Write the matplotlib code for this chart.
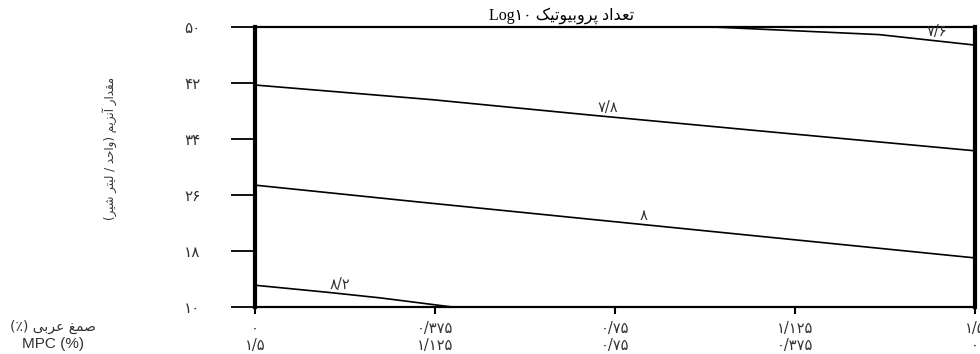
import matplotlib
matplotlib.use('Agg')
from matplotlib import pyplot

# contour lines of the fitted response (x = gum arabic %, y = enzyme units / L milk)
c76_x = [0.95, 1.30, 1.50]
c76_y = [50.0, 48.9, 47.4]
c78_x = [0.0, 0.37, 0.70, 1.09, 1.50]
c78_y = [41.7, 39.6, 37.4, 34.9, 32.3]
c80_x = [0.0, 0.34, 0.76, 1.50]
c80_y = [27.4, 25.0, 22.1, 17.0]
c82_x = [0.0, 0.15, 0.26, 0.41]
c82_y = [13.1, 12.1, 11.3, 10.0]

contour_labels = ['۷/۶', '۷/۸', '۸', '۸/۲']
label_x = [1.42, 0.735, 0.81, 0.177]
label_y = [49.3, 38.5, 23.1, 13.2]

xticks = [0, 0.375, 0.75, 1.125, 1.5]
gum_labels = ['۰', '۰/۳۷۵', '۰/۷۵', '۱/۱۲۵', '۱/۵']
mpc_labels = ['۱/۵', '۱/۱۲۵', '۰/۷۵', '۰/۳۷۵', '۰']
yticks = [10, 18, 26, 34, 42, 50]
ylabels = ['۱۰', '۱۸', '۲۶', '۳۴', '۴۲', '۵۰']

# matplotlib has no arabic shaping, so pick the presentation forms by hand
# (isolated, final, initial, medial)
forms = {
    'ا': (0xFE8D, 0xFE8E), 'آ': (0xFE81, 0xFE82),
    'ب': (0xFE8F, 0xFE90, 0xFE91, 0xFE92), 'پ': (0xFB56, 0xFB57, 0xFB58, 0xFB59),
    'ت': (0xFE95, 0xFE96, 0xFE97, 0xFE98), 'ح': (0xFEA1, 0xFEA2, 0xFEA3, 0xFEA4),
    'د': (0xFEA9, 0xFEAA), 'ر': (0xFEAD, 0xFEAE), 'ز': (0xFEAF, 0xFEB0),
    'ش': (0xFEB5, 0xFEB6, 0xFEB7, 0xFEB8), 'ص': (0xFEB9, 0xFEBA, 0xFEBB, 0xFEBC),
    'ع': (0xFEC9, 0xFECA, 0xFECB, 0xFECC), 'غ': (0xFECD, 0xFECE, 0xFECF, 0xFED0),
    'ق': (0xFED5, 0xFED6, 0xFED7, 0xFED8), 'ک': (0xFB8E, 0xFB8F, 0xFB90, 0xFB91),
    'ل': (0xFEDD, 0xFEDE, 0xFEDF, 0xFEE0), 'م': (0xFEE1, 0xFEE2, 0xFEE3, 0xFEE4),
    'ن': (0xFEE5, 0xFEE6, 0xFEE7, 0xFEE8), 'و': (0xFEED, 0xFEEE),
    'ی': (0xFBFC, 0xFBFD, 0xFBFE, 0xFBFF),
}

def rtl(s):
    out = []
    for i, ch in enumerate(s):
        if ch not in forms:
            out.append(ch)
            continue
        prev = s[i-1] if i > 0 else ''
        nxt = s[i+1] if i < len(s)-1 else ''
        jp = prev in forms and len(forms[prev]) == 4
        jn = len(forms[ch]) == 4 and nxt in forms
        f = forms[ch]
        if jp and jn:
            out.append(chr(f[3]))
        elif jp:
            out.append(chr(f[1]))
        elif jn:
            out.append(chr(f[2]))
        else:
            out.append(chr(f[0]))
    vis = ''.join(reversed(out))
    return vis.translate(str.maketrans('()', ')('))

fa = ['DejaVu Sans']
grey = '#333333'

pyplot.close('all')
fig = pyplot.figure(figsize=(9.8, 3.54), dpi=100, facecolor='white')
ax = fig.add_axes([0.260, 0.133, 0.735, 0.791])

for xs, ys in [(c76_x, c76_y), (c78_x, c78_y), (c80_x, c80_y), (c82_x, c82_y)]:
    ax.plot(xs, ys, color='black', linewidth=1.2)

for t, x, y in zip(contour_labels, label_x, label_y):
    ax.text(x, y, t, ha='center', va='center', fontsize=10.5, family=fa, color=grey)

ax.set_xlim(0, 1.5)
ax.set_ylim(10, 50)

ax.set_xticks(xticks)
ax.set_xticklabels([a + '\n' + b for a, b in zip(gum_labels, mpc_labels)],
                   family=fa, fontsize=10.5, linespacing=1.2, color=grey)
ax.set_yticks(yticks)
ax.set_yticklabels(ylabels, family=fa, fontsize=11, color=grey)

ax.tick_params(axis='x', direction='out', length=5, width=1.5, pad=5)
ax.tick_params(axis='y', direction='out', length=17, width=1.3, pad=22)

ax.spines['left'].set_linewidth(3)
ax.spines['right'].set_linewidth(3)
ax.spines['top'].set_linewidth(1.6)
ax.spines['bottom'].set_linewidth(1.6)

# titles and axis captions
fig.text(0.573, 0.955, 'Log۱۰ ' + rtl('تعداد پروبیوتیک'), ha='center', va='center',
         fontsize=11.5, family=['Liberation Serif', 'DejaVu Sans'])
fig.text(0.112, 0.58, rtl('مقدار آنزیم (واحد / لیتر شیر)'), rotation=90,
         ha='center', va='center', fontsize=8.5, family=fa, color=grey)
fig.text(0.054, 0.076, rtl('صمغ عربی (٪)'), ha='center', va='center', fontsize=10,
         family=fa, color=grey)
fig.text(0.054, 0.028, 'MPC (%)', ha='center', va='center', fontsize=11,
         family=['Liberation Sans'], color=grey)

pyplot.savefig('out.png', dpi=100, facecolor='white')
